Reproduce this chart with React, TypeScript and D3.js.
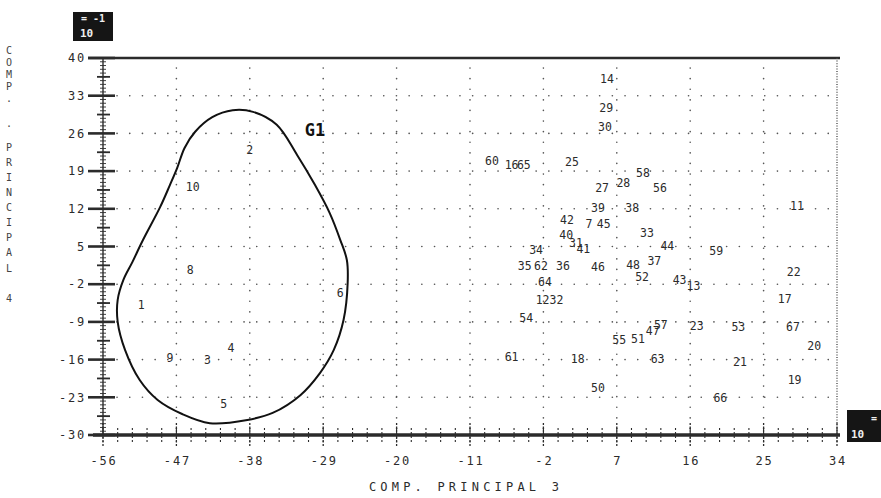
import React from 'react';
import * as d3 from 'd3';

const W = 881;
const H = 498;

// Axis ticks
const xTicks = [-56, -47, -38, -29, -20, -11, -2, 7, 16, 25, 34];
const yTicks = [40, 33, 26, 19, 12, 5, -2, -9, -16, -23, -30];

// Observations (component 3 vs component 4), labelled by individual number
const pointLabels = [
  '1', '2', '3', '4', '5', '6', '8', '9', '10',
  '14', '29', '30', '60', '16', '65', '25', '58', '28', '27', '56',
  '39', '38', '11', '42', '7', '45', '40', '31', '33', '44', '41', '34', '59',
  '35', '62', '36', '46', '48', '37', '52', '22', '64', '43', '13', '17',
  '12', '32', '54', '57', '23', '53', '67', '55', '51', '47', '20',
  '61', '18', '63', '21', '19', '50', '66',
];
const pointX = [
  -51.3, -38.0, -43.2, -40.3, -41.2, -26.9, -45.3, -47.8, -45.0,
  5.8, 5.7, 5.55, -8.3, -5.9, -4.4, 1.5, 10.2, 7.8, 5.2, 12.3,
  4.7, 8.9, 29.1, 0.9, 3.6, 5.4, 0.8, 2.0, 10.7, 13.2, 2.9, -2.9, 19.2,
  -4.3, -2.3, 0.4, 4.7, 9.0, 11.6, 10.1, 28.7, -1.8, 14.7, 16.4, 27.6,
  -2.1, -0.4, -4.1, 12.4, 16.8, 21.9, 28.6, 7.3, 9.6, 11.4, 31.2,
  -5.9, 2.2, 12.0, 22.1, 28.8, 4.7, 19.7,
];
const pointY = [
  -5.9, 22.9, -16.1, -13.8, -24.2, -3.6, 0.6, -15.7, 16.0,
  36.1, 30.7, 27.2, 20.9, 20.1, 20.1, 20.7, 18.6, 16.8, 15.9, 15.9,
  12.2, 12.2, 12.5, 9.9, 9.2, 9.2, 7.2, 5.7, 7.5, 5.1, 4.5, 4.4, 4.2,
  1.4, 1.4, 1.4, 1.2, 1.6, 2.3, -0.7, 0.3, -1.6, -1.2, -2.3, -4.7,
  -4.9, -4.9, -8.3, -9.6, -9.8, -9.9, -9.9, -12.4, -12.2, -10.7, -13.5,
  -15.5, -15.9, -15.9, -16.4, -19.8, -21.3, -23.1,
];

// Outline of group G1
const g1X = [
  -40.1, -37.6, -34.7, -32.2, -30.0, -28.2, -26.9, -26.1, -26.0, -26.5, -27.7,
  -29.4, -31.8, -35.2, -38.3, -42.9, -46.3, -49.3, -51.5, -53.3, -54.2, -54.2,
  -53.5, -52.4, -51.1, -49.0, -47.8, -46.9, -46.0, -44.7, -42.6,
];
const g1Y = [
  30.3, 30.0, 27.6, 22.0, 16.4, 11.2, 6.2, 2.5, -1.8, -8.6, -14.2,
  -18.5, -22.6, -25.9, -27.2, -27.8, -26.1, -23.5, -19.8, -14.2, -9.0, -4.9,
  -1.2, 2.1, 6.2, 12.3, 16.4, 19.6, 23.3, 26.3, 29.0,
];

const groupName = 'G1';
const xTitle = 'COMP. PRINCIPAL 3';
const yTitleChars = ['C', 'O', 'M', 'P', '.', '.', 'P', 'R', 'I', 'N', 'C', 'I', 'P', 'A', 'L', '4'];
const yTitlePos = [50, 62, 74, 86, 98, 123, 147, 162, 177, 192, 207, 222, 237, 252, 268, 298];

const INK = '#2b2b2b';
const MONO = '"DejaVu Sans Mono", "Liberation Mono", monospace';

export default function App() {
  const x = d3.scaleLinear().domain([-56, 34]).range([103, 837]);
  const y = d3.scaleLinear().domain([-30, 40]).range([435, 58]);

  const outline = d3
    .line<number>()
    .x((i) => x(g1X[i]))
    .y((i) => y(g1Y[i]))
    .curve(d3.curveCatmullRomClosed.alpha(0.5));

  const yMinor = d3.range(-30, 40.001, 0.7);
  const yMid = d3.range(-26.5, 40, 7);
  const xMinor = d3.range(-56, 34.001, 1.8);

  return (
    <svg
      width={W}
      height={H}
      viewBox={`0 0 ${W} ${H}`}
      style={{ position: 'absolute', left: 0, top: 0, background: '#fff' }}
    >
      {/* dotted grid */}
      <g stroke="#555" strokeWidth={1.6} strokeLinecap="round">
        {yTicks
          .filter((t) => t !== 40 && t !== -30)
          .map((t) => (
            <line
              key={'gy' + t}
              x1={x(-56) + 14}
              x2={x(34)}
              y1={y(t)}
              y2={y(t)}
              strokeDasharray="0.1 12.6"
            />
          ))}
        {xTicks
          .filter((t) => t !== -56 && t !== 34)
          .map((t) => (
            <line
              key={'gx' + t}
              x1={x(t)}
              x2={x(t)}
              y1={y(40) + 10}
              y2={y(-30)}
              strokeDasharray="0.1 10.5"
            />
          ))}
      </g>

      {/* frame: top rule, right dotted edge */}
      <line x1={x(-56) - 15} x2={x(34) + 3} y1={y(40)} y2={y(40)} stroke={INK} strokeWidth={2.4} />
      <line x1={x(34)} x2={x(34)} y1={y(40)} y2={y(-30)} stroke="#444" strokeWidth={1.3} strokeDasharray="1 1.6" />

      {/* y axis with hash marks */}
      <g stroke={INK}>
        <line x1={x(-56)} x2={x(-56)} y1={y(40)} y2={y(-30)} strokeWidth={1.4} />
        {yMinor.map((v, i) => (
          <line key={'ym' + i} x1={x(-56) - 3} x2={x(-56) + 3} y1={y(v)} y2={y(v)} strokeWidth={0.9} />
        ))}
        {yMid.map((v, i) => (
          <line key={'yd' + i} x1={x(-56) - 6} x2={x(-56) + 7} y1={y(v)} y2={y(v)} strokeWidth={1.8} />
        ))}
        {yTicks.map((t) => (
          <line key={'yt' + t} x1={x(-56) - 15} x2={x(-56) + 12} y1={y(t)} y2={y(t)} strokeWidth={2.6} />
        ))}
      </g>

      {/* x axis: heavy rule with dotted ticks */}
      <g stroke={INK}>
        {xMinor.map((v, i) => (
          <line key={'xm' + i} x1={x(v)} x2={x(v)} y1={y(-30) - 7} y2={y(-30) + 8} strokeWidth={1.1} strokeDasharray="2 2" />
        ))}
        {xTicks.map((t) => (
          <line key={'xt' + t} x1={x(t)} x2={x(t)} y1={y(-30) - 12} y2={y(-30) + 11} strokeWidth={1.3} strokeDasharray="2 1.5" />
        ))}
        <line x1={x(-56) - 10} x2={x(34) + 3} y1={y(-30)} y2={y(-30)} strokeWidth={3.6} />
      </g>

      {/* tick labels */}
      <g fontFamily={MONO} fontSize={12} fill={INK} letterSpacing={1.8}>
        {yTicks.map((t) => (
          <text key={'yl' + t} x={x(-56) - 17} y={y(t)} dy="0.35em" textAnchor="end">
            {t}
          </text>
        ))}
        {xTicks.map((t) => (
          <text key={'xl' + t} x={x(t) + 1} y={461} dy="0.35em" textAnchor="middle">
            {t}
          </text>
        ))}
      </g>

      {/* axis titles */}
      <text
        x={466}
        y={487}
        dy="0.35em"
        textAnchor="middle"
        fontFamily={MONO}
        fontSize={12}
        letterSpacing={4.2}
        fill={INK}
      >
        {xTitle}
      </text>
      <g fontFamily={MONO} fontSize={10} fill="#444" textAnchor="middle">
        {yTitleChars.map((c, i) => (
          <text key={'yc' + i} x={9} y={yTitlePos[i]} dy="0.35em">
            {c}
          </text>
        ))}
      </g>

      {/* scale boxes */}
      <g>
        <rect x={73} y={12} width={40} height={29} fill="#151515" />
        <text x={105} y={22} fontFamily={MONO} fontSize={10} fontWeight="bold" fill="#eee" textAnchor="end">
          = -1
        </text>
        <text x={80} y={37} fontFamily={MONO} fontSize={11} fontWeight="bold" fill="#eee">
          10
        </text>
        <rect x={847} y={410} width={34} height={32} fill="#151515" />
        <text x={877} y={422} fontFamily={MONO} fontSize={10} fontWeight="bold" fill="#eee" textAnchor="end">
          =
        </text>
        <text x={851} y={438} fontFamily={MONO} fontSize={11} fontWeight="bold" fill="#eee">
          10
        </text>
      </g>

      {/* group outline */}
      <path
        d={outline(d3.range(g1X.length)) ?? ''}
        fill="none"
        stroke="#111"
        strokeWidth={2}
      />
      <text
        x={315}
        y={130}
        dy="0.35em"
        textAnchor="middle"
        fontFamily={MONO}
        fontSize={17}
        fontWeight="bold"
        fill="#111"
      >
        {groupName}
      </text>

      {/* observation labels */}
      <g fontFamily={MONO} fontSize={11.5} fill={INK} textAnchor="middle">
        {pointLabels.map((lab, i) => (
          <text key={'p' + i} x={x(pointX[i])} y={y(pointY[i])} dy="0.35em">
            {lab}
          </text>
        ))}
      </g>
    </svg>
  );
}
